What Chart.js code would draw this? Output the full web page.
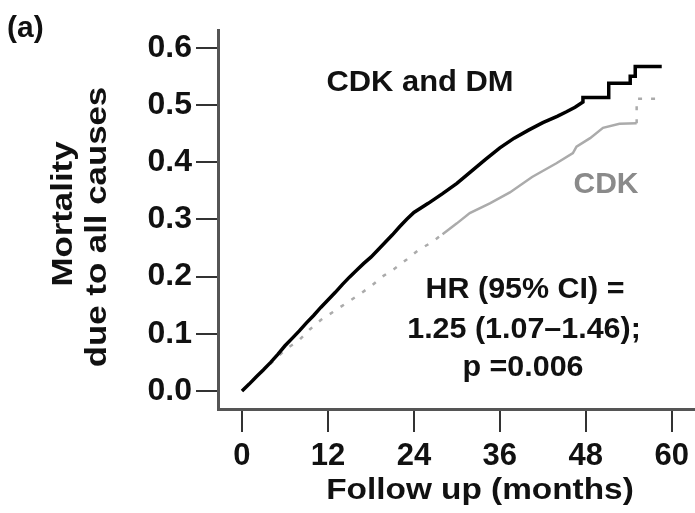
<!DOCTYPE html>
<html>
<head>
<meta charset="utf-8">
<script src="https://cdn.jsdelivr.net/npm/chart.js@4.4.0/dist/chart.umd.min.js"></script>
<style>
  html, body { margin: 0; padding: 0; background: #fff; }
</style>
</head>
<body>
<canvas id="km" width="695" height="513"></canvas>
<script>
  // CDK and DM (black curve)
  const monthsDM = [0, 1, 2, 3, 4, 5, 6, 7, 8, 9, 10, 11, 12, 13, 14, 15, 16, 17, 18, 19, 20, 21, 22, 23, 24,
    26, 28, 30, 32, 34, 36, 38, 40, 42, 44, 45.3, 46.5, 47.6, 47.6, 51.2, 51.2, 54.2, 54.2, 54.9, 54.9, 58.6];
  const mortalityDM = [0, 0.012, 0.025, 0.037, 0.05, 0.064, 0.079, 0.092, 0.105, 0.119, 0.132, 0.146, 0.159, 0.172,
    0.186, 0.199, 0.211, 0.223, 0.234, 0.247, 0.26, 0.273, 0.287, 0.3, 0.312,
    0.328, 0.345, 0.363, 0.384, 0.405, 0.425, 0.442, 0.456, 0.469, 0.48, 0.488, 0.496, 0.505, 0.513,
    0.513, 0.538, 0.538, 0.55, 0.55, 0.567, 0.567];

  // CDK (grey curve)
  const monthsCDK = [0, 2, 4, 6, 8, 9.5, 11, 12.7, 14.6, 16.3, 18.1, 19.6, 21.2, 23, 24.6, 26.5, 28, 30, 31.8,
    34.6, 37.4, 40.5, 43.9, 46.2, 46.7, 48.6, 50.4, 52.7, 55.1, 55.1, 58.6];
  const mortalityCDK = [0, 0.024, 0.048, 0.072, 0.089, 0.108, 0.124, 0.138, 0.154, 0.168, 0.184, 0.2, 0.213, 0.23,
    0.246, 0.26, 0.274, 0.293, 0.311, 0.328, 0.347, 0.374, 0.398, 0.416, 0.427, 0.442, 0.46, 0.467, 0.468,
    0.511, 0.511];

  const xTicks = [0, 12, 24, 36, 48, 60];
  const xTickLabels = ["0", "12", "24", "36", "48", "60"];
  const yTicks = [0, 0.1, 0.2, 0.3, 0.4, 0.5, 0.6];
  const yTickLabels = ["0.0", "0.1", "0.2", "0.3", "0.4", "0.5", "0.6"];

  const FONT = '"Liberation Sans", Arial, Helvetica, sans-serif';

  const toPoints = (xs, ys) => xs.map((x, i) => ({ x: x, y: ys[i] }));

  // free text: panel tag, axis titles, curve labels, HR box
  const textPlugin = {
    id: "kmText",
    afterDraw(chart) {
      const ctx = chart.ctx;
      function put(text, x, y, size, color, stretch, rotate) {
        ctx.save();
        ctx.translate(x, y);
        if (rotate) ctx.rotate(-Math.PI / 2);
        ctx.scale(stretch || 1, 1);
        ctx.font = "bold " + size + "px " + FONT;
        ctx.fillStyle = color;
        ctx.textAlign = "center";
        ctx.textBaseline = "middle";
        ctx.fillText(text, 0, 0);
        ctx.restore();
      }
      ctx.save();
      ctx.font = "bold 30px " + FONT;
      ctx.fillStyle = "#111";
      ctx.textAlign = "left";
      ctx.textBaseline = "alphabetic";
      ctx.fillText("(a)", 7, 37);
      ctx.restore();

      put("Mortality", 64, 214, 29, "#111", 1.2, true);
      put("due to all causes", 98, 227, 29, "#111", 1.2, true);
      put("Follow up (months)", 480, 491, 29, "#111", 1.15, false);

      put("CDK and DM", 420, 83, 30, "#111", 1.03, false);
      put("CDK", 606, 185, 30, "#8a8a8a", 1.0, false);

      put("HR (95% CI) =", 525, 290, 29, "#111", 1.05, false);
      put("1.25 (1.07\u20131.46);", 524, 330, 29, "#111", 1.05, false);
      put("p =0.006", 523, 368, 29, "#111", 1.05, false);
    }
  };

  new Chart(document.getElementById("km"), {
    type: "line",
    data: {
      datasets: [
        {
          label: "CDK and DM",
          data: toPoints(monthsDM, mortalityDM),
          borderColor: "#000",
          borderWidth: 3.5,
          pointRadius: 0,
          tension: 0,
        },
        {
          label: "CDK",
          data: toPoints(monthsCDK, mortalityCDK),
          borderColor: "#ababab",
          borderWidth: 2.5,
          pointRadius: 0,
          tension: 0,
          segment: {
            borderDash: (c) => (c.p0.parsed.x < 28 || c.p0.parsed.x >= 55.1 ? [4, 9] : undefined),
          },
        },
      ],
    },
    options: {
      responsive: false,
      animation: false,
      devicePixelRatio: 1,
      layout: { padding: { top: 30, right: 0, left: 0, bottom: 0 } },
      plugins: { legend: { display: false }, tooltip: { enabled: false } },
      scales: {
        x: {
          type: "linear",
          min: -3.35,
          max: 63.2,
          afterBuildTicks: (s) => { s.ticks = xTicks.map((v) => ({ value: v })); },
          afterFit: (s) => { s.height = 104; },
          ticks: {
            autoSkip: false,
            maxRotation: 0,
            padding: 6,
            color: "#111",
            font: { family: FONT, size: 31, weight: "bold" },
            callback: (v, i) => xTickLabels[i],
          },
          grid: { drawOnChartArea: false, color: "#333", lineWidth: 2, tickLength: 23 },
          border: { color: "#555", width: 3 },
        },
        y: {
          min: -0.0315,
          max: 0.631,
          afterBuildTicks: (s) => { s.ticks = yTicks.map((v) => ({ value: v })); },
          afterFit: (s) => { s.width = 218; },
          ticks: {
            autoSkip: false,
            padding: 4,
            color: "#111",
            font: { family: FONT, size: 32, weight: "bold" },
            callback: (v, i) => yTickLabels[i],
          },
          grid: { drawOnChartArea: false, color: "#333", lineWidth: 2, tickLength: 22 },
          border: { color: "#555", width: 3 },
        },
      },
    },
    plugins: [textPlugin],
  });
</script>
</body>
</html>
